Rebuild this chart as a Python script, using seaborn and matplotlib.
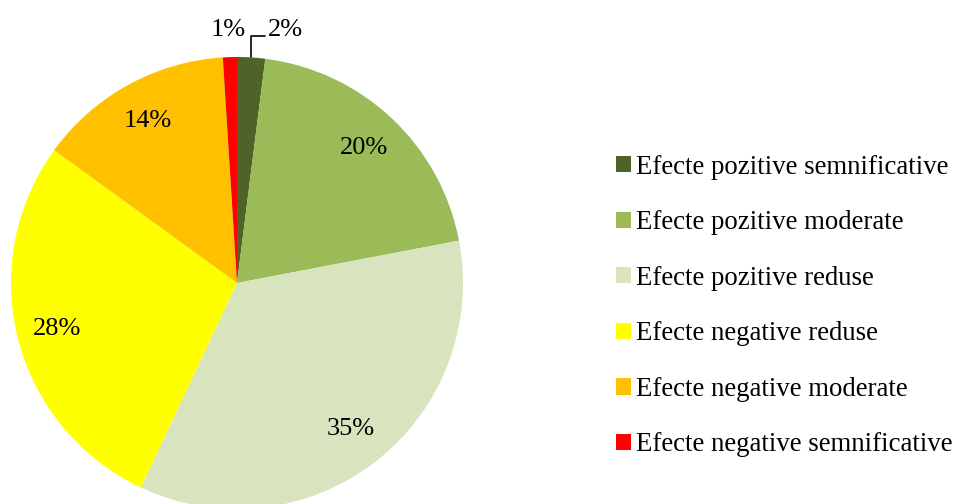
import numpy as np
import matplotlib
matplotlib.use("Agg")
import matplotlib.pyplot as plt
import seaborn as sns

categories = [
    "Efecte pozitive semnificative",
    "Efecte pozitive moderate",
    "Efecte pozitive reduse",
    "Efecte negative reduse",
    "Efecte negative moderate",
    "Efecte negative semnificative",
]
shares = [2, 20, 35, 28, 14, 1]
colors = ["#4F6228", "#9BBB59", "#D7E4BD", "#FFFF00", "#FFC000", "#FF0000"]

sns.set_theme(style="white")
plt.rcParams["font.family"] = ["Liberation Serif", "DejaVu Serif"]
plt.rcParams["text.color"] = "black"

fig = plt.figure(figsize=(9.55, 5.04), dpi=100)
ax = fig.add_axes([11 / 955, -5 / 504, 452 / 955, 452 / 504])

label_fs = 19
wedges, texts, autotexts = ax.pie(
    shares,
    colors=colors,
    startangle=90,
    counterclock=False,
    radius=1,
    autopct=lambda p: f"{p:.0f}%",
    pctdistance=0.82,
    wedgeprops=dict(linewidth=0),
    textprops=dict(fontsize=label_fs, color="black"),
)

# small slices get their labels outside the pie
for w, t in zip(wedges, autotexts):
    if (w.theta2 - w.theta1) < 10:
        t.set_visible(False)

# 2% label with an elbow leader line
w2 = wedges[0]
mid = np.deg2rad((w2.theta1 + w2.theta2) / 2)
x0, y0 = np.cos(mid), np.sin(mid)
ax.plot([x0, x0, 0.124], [y0, 1.093, 1.093], color="black", lw=1.2, clip_on=False)
ax.text(0.135, 1.12, f"{shares[0]}%", fontsize=label_fs, ha="left", va="center")

# 1% label just above its slice
ax.text(0.038, 1.12, f"{shares[5]}%", fontsize=label_fs, ha="right", va="center")

ax.set_xlim(-1, 1)
ax.set_ylim(-1, 1)
ax.set_aspect("equal")
ax.axis("off")

fig.legend(
    wedges,
    categories,
    loc="center left",
    bbox_to_anchor=(616 / 955, 1 - 306 / 504),
    frameon=False,
    fontsize=19.3,
    labelcolor="black",
    handlelength=0.56,
    handleheight=0.56,
    handletextpad=0.19,
    labelspacing=1.14,
    borderpad=0,
    borderaxespad=0,
)

fig.savefig("out.png", dpi=100)
